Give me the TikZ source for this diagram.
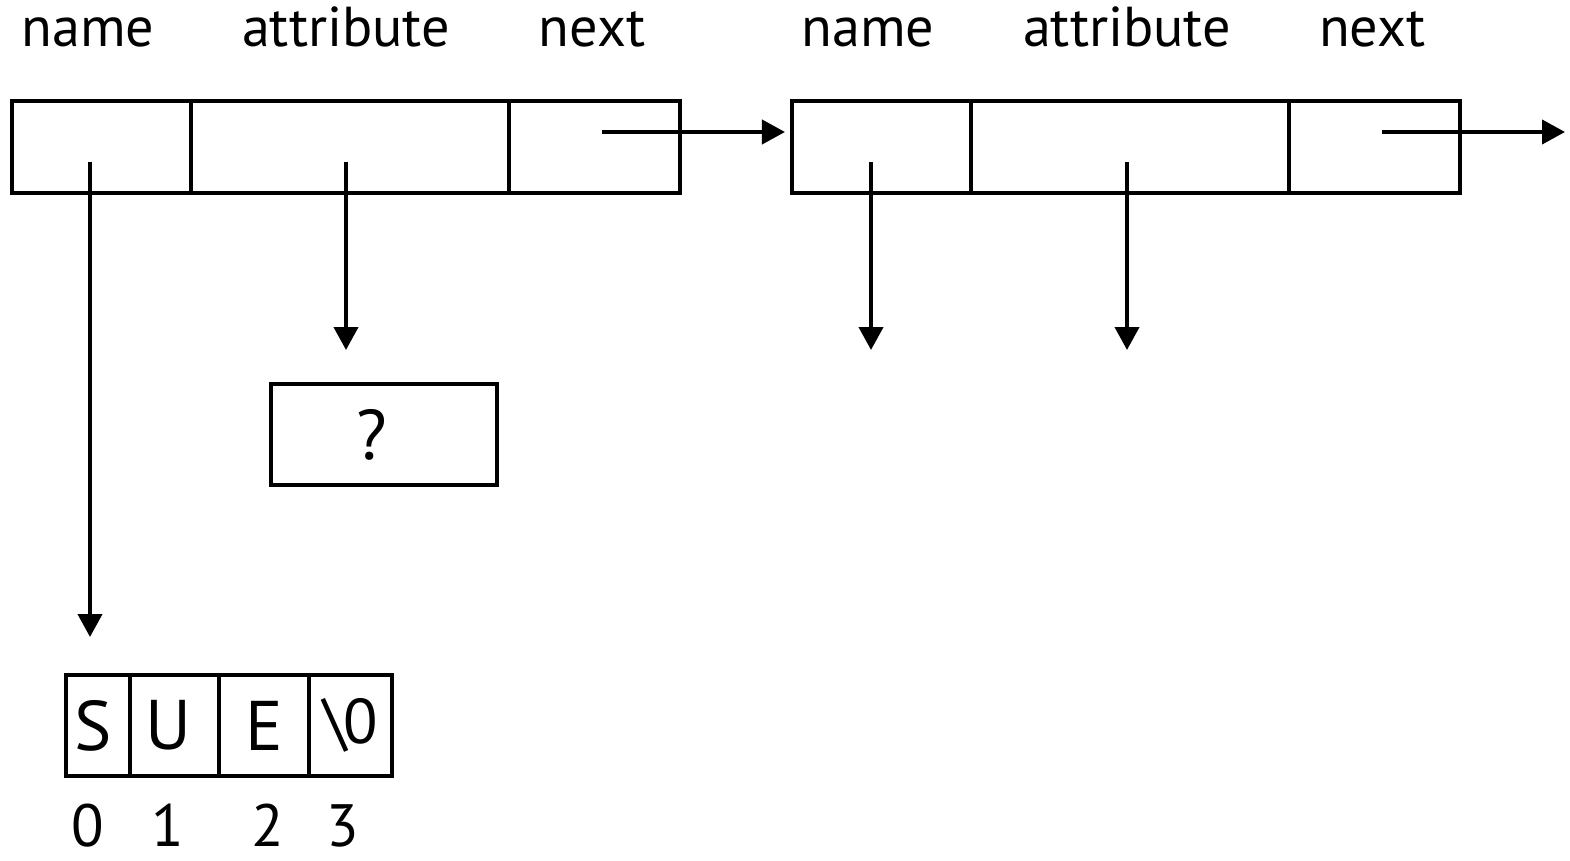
\documentclass[tikz,border=0pt]{standalone}
\usepackage{fontspec}
\setmainfont{PT Sans}
\usetikzlibrary{arrows.meta}
\tikzset{
  cell/.style={draw, line width=1.15pt, minimum height=9.2mm, inner sep=0pt},
  chr/.style={cell, minimum height=10.1mm, font=\fontsize{20}{24}\selectfont},
  ptr/.style={line width=1.15pt, -{Triangle[length=2.3mm,width=2.4mm]}},
  lbl/.style={anchor=base, inner sep=0pt},
  idx/.style={lbl, font=\fontsize{17}{20}\selectfont},
}
\begin{document}
\begin{tikzpicture}
    [x=0.1mm, y=-0.1mm, font=\fontsize{16}{19}\selectfont]
    \useasboundingbox (0,0) rectangle (1570,860);
    % first entry
    \node[cell, minimum width=17.9mm] (name1) at (101.5,147) {};
    \node[cell, minimum width=31.8mm] (attr1) at (350,147) {};
    \node[cell, minimum width=17.1mm] (next1) at (594.5,147) {};
    \node[lbl] (lname1) at (88,47) {name};
    \node[lbl] (lattr1) at (346,47) {attribute};
    \node[lbl] (lnext1) at (592,47) {next};
    % second entry
    \node[cell, minimum width=17.9mm] (name2) at (881.5,147) {};
    \node[cell, minimum width=31.8mm] (attr2) at (1130,147) {};
    \node[cell, minimum width=17.1mm] (next2) at (1374.5,147) {};
    \node[lbl] (lname2) at (868,47) {name};
    \node[lbl] (lattr2) at (1127,47) {attribute};
    \node[lbl] (lnext2) at (1372,47) {next};
    % attribute value
    \node[chr, minimum width=22.6mm] (val) at (384,434.5) {?\kern2.4mm};
    % the string
    \node[chr, minimum width=6.4mm] (c0) at (98,725.5) {S\kern1mm};
    \node[chr, minimum width=8.9mm] (c1) at (174.5,725.5) {U\kern1.2mm};
    \node[chr, minimum width=9mm] (c2) at (264,725.5) {E};
    \node[chr, minimum width=8.3mm, font=\fontsize{18}{22}\selectfont] (c3) at (350.5,725.5) {\textbackslash\kern-0.4mm 0};
    \node[idx] (i0) at (88,846) {0};
    \node[idx] (i1) at (168,846) {1};
    \node[idx] (i2) at (268,846) {2};
    \node[idx] (i3) at (343,846) {3};
    % pointers
    \coordinate (n1from) at (90,162);
    \coordinate (n1to) at (90,637);
    \coordinate (a1from) at (346,162);
    \coordinate (a1to) at (346,350);
    \coordinate (x1from) at (602,132);
    \coordinate (n2from) at (871,162);
    \coordinate (n2to) at (871,350);
    \coordinate (a2from) at (1127,162);
    \coordinate (a2to) at (1127,350);
    \coordinate (x2from) at (1382,132);
    \coordinate (x2to) at (1565,132);
    \draw[ptr] (n1from) -- (n1to);
    \draw[ptr] (a1from) -- (a1to);
    \draw[ptr, shorten >=0.5mm] (x1from) -- (name2.west |- x1from);
    \draw[ptr] (n2from) -- (n2to);
    \draw[ptr] (a2from) -- (a2to);
    \draw[ptr] (x2from) -- (x2to);
\end{tikzpicture}
\end{document}
